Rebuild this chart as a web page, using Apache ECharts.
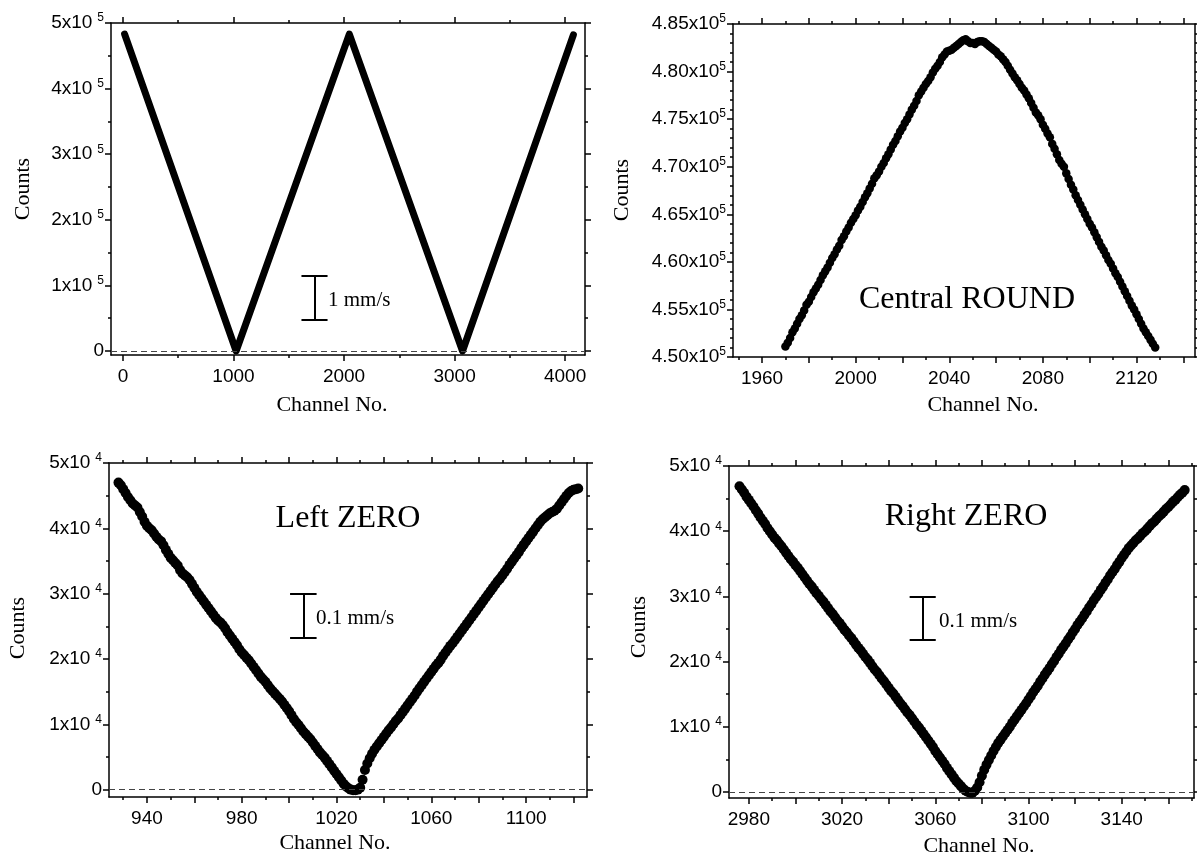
<!DOCTYPE html>
<html>
<head>
<meta charset="utf-8">
<script src="https://cdn.jsdelivr.net/npm/echarts@6/dist/echarts.min.js"></script>
<style>
  html, body { margin: 0; padding: 0; background: #fff; }
  #chart { width: 1197px; height: 859px; }
</style>
</head>
<body>
<div id="chart"></div>
<script>
// ---- data ----
// panel 1: full spectrum (thick line)
const p1Channel = [15, 1024, 2048, 3072, 4075];
const p1Counts = [483000, 0, 483000, 0, 482000];

// panel 2: central round, one point per channel from 1970
const p2FirstChannel = 1970;
const p2Counts = [
  451100, 451500, 452000, 452600, 453000, 453500, 454000, 454400, 454900, 455500,
  455800, 456300, 456800, 457200, 457600, 458100, 458600, 459000, 459400, 459900,
  460400, 460800, 461300, 461700, 462300, 462700, 463200, 463600, 464100, 464500,
  464900, 465400, 465800, 466300, 466800, 467200, 467700, 468200, 468800, 469100,
  469500, 470000, 470400, 470900, 471300, 471800, 472300, 472700, 473200, 473700,
  474100, 474600, 475000, 475500, 476000, 476400, 476900, 477500, 477900, 478300,
  478700, 479000, 479400, 479900, 480300, 480600, 481000, 481500, 481800, 482100,
  482200, 482300, 482500, 482700, 482900, 483100, 483300, 483400, 483200, 483000,
  483000, 482900, 483100, 483200, 483200, 483100, 482900, 482700, 482500, 482300,
  482100, 481800, 481600, 481300, 481000, 480600, 480200, 479800, 479400, 479100,
  478700, 478300, 478000, 477600, 477200, 476700, 476200, 475700, 475400, 475000,
  474400, 474000, 473500, 473100, 472400, 471900, 471300, 470700, 470300, 470000,
  469300, 468700, 468100, 467600, 467000, 466500, 466000, 465500, 465000, 464500,
  464000, 463600, 463100, 462600, 462100, 461600, 461200, 460700, 460200, 459800,
  459300, 458800, 458400, 457900, 457400, 456900, 456400, 455900, 455400, 455000,
  454500, 454000, 453500, 453000, 452600, 452200, 451800, 451400, 451000
];

// panel 3: left zero, one point per channel from 928
const p3FirstChannel = 928;
const p3Counts = [
  47000, 46600, 46000, 45400, 44800, 44300, 43800, 43500, 43200, 42500,
  41800, 41000, 40400, 40000, 39700, 39200, 38700, 38300, 38000, 37400,
  36700, 36100, 35500, 35100, 34700, 34300, 33600, 33100, 32800, 32500,
  32100, 31500, 30900, 30300, 29800, 29300, 28800, 28300, 27800, 27300,
  26800, 26300, 25900, 25600, 25200, 24700, 24100, 23600, 23100, 22600,
  22100, 21500, 21000, 20600, 20200, 19800, 19300, 18800, 18300, 17800,
  17300, 16900, 16500, 16000, 15500, 15100, 14700, 14300, 13900, 13500,
  13000, 12500, 12000, 11400, 10800, 10300, 9900, 9400, 8900, 8500,
  8100, 7700, 7200, 6700, 6200, 5700, 5300, 4900, 4400, 3900,
  3400, 2900, 2400, 1900, 1400, 900, 500, 200, 0, -100,
  -100, 0, 300, 1500, 3000, 4000, 4800, 5500, 6100, 6600,
  7100, 7600, 8100, 8600, 9100, 9500, 10000, 10500, 10900, 11400,
  11900, 12400, 12900, 13400, 13900, 14400, 15000, 15500, 16000, 16500,
  17000, 17500, 18000, 18500, 19000, 19400, 19900, 20500, 21000, 21500,
  22000, 22400, 22900, 23400, 23900, 24400, 24900, 25400, 25900, 26400,
  26900, 27400, 27900, 28400, 28900, 29400, 29900, 30400, 30900, 31400,
  31900, 32300, 32800, 33300, 33800, 34400, 34900, 35400, 35900, 36400,
  37000, 37500, 38000, 38500, 39000, 39500, 40000, 40500, 41000, 41400,
  41700, 42000, 42300, 42500, 42700, 43000, 43500, 44000, 44500, 45000,
  45400, 45700, 45900, 46000, 46100
];

// panel 4: right zero, one point per channel from 2976
const p4FirstChannel = 2976;
const p4Counts = [
  46900, 46400, 45900, 45300, 44800, 44300, 43800, 43200, 42700, 42100,
  41600, 41100, 40500, 40000, 39500, 39000, 38600, 38100, 37700, 37200,
  36700, 36200, 35700, 35300, 34800, 34400, 33900, 33400, 32900, 32400,
  31900, 31500, 31000, 30500, 30100, 29600, 29200, 28700, 28200, 27700,
  27300, 26800, 26300, 25900, 25400, 24900, 24500, 24000, 23600, 23100,
  22600, 22100, 21700, 21200, 20700, 20300, 19800, 19300, 18800, 18400,
  17900, 17400, 17000, 16500, 16000, 15500, 15100, 14600, 14100, 13600,
  13200, 12700, 12200, 11800, 11300, 10800, 10300, 9900, 9400, 8900,
  8400, 7900, 7400, 6900, 6300, 5800, 5300, 4800, 4300, 3700,
  3200, 2700, 2200, 1700, 1300, 900, 500, 200, 0, -100,
  -100, 200, 700, 1500, 2500, 3400, 4200, 4900, 5600, 6300,
  6900, 7500, 8000, 8500, 9000, 9500, 10000, 10600, 11100, 11600,
  12100, 12600, 13100, 13600, 14200, 14700, 15300, 15800, 16300, 16900,
  17400, 18000, 18500, 19000, 19600, 20100, 20700, 21200, 21800, 22300,
  22800, 23400, 23900, 24500, 25000, 25600, 26100, 26600, 27200, 27700,
  28300, 28800, 29400, 29900, 30400, 31000, 31500, 32100, 32600, 33200,
  33700, 34200, 34800, 35300, 35900, 36400, 36900, 37400, 37800, 38200,
  38600, 38900, 39300, 39700, 40000, 40400, 40800, 41200, 41500, 41900,
  42300, 42600, 43000, 43400, 43700, 44100, 44500, 44800, 45200, 45600,
  45900, 46300
];

// ---- tick values ----
const p1XLabels = [0, 1000, 2000, 3000, 4000];
const p1XMinor = [500, 1500, 2500, 3500];
const p1YLabels = [0, 100000, 200000, 300000, 400000, 500000];
const p1YMinor = [50000, 150000, 250000, 350000, 450000];

const p2XLabels = [1960, 2000, 2040, 2080, 2120];
const p2XMajor = [1960, 1980, 2000, 2020, 2040, 2060, 2080, 2100, 2120, 2140];
const p2XMinor = [1950, 1970, 1990, 2010, 2030, 2050, 2070, 2090, 2110, 2130];
const p2YLabels = [450000, 455000, 460000, 465000, 470000, 475000, 480000, 485000];
const p2YMinor = [
  451000, 452000, 453000, 454000, 456000, 457000, 458000, 459000,
  461000, 462000, 463000, 464000, 466000, 467000, 468000, 469000,
  471000, 472000, 473000, 474000, 476000, 477000, 478000, 479000,
  481000, 482000, 483000, 484000
];

const p3XLabels = [940, 980, 1020, 1060, 1100];
const p3XMajor = [940, 960, 980, 1000, 1020, 1040, 1060, 1080, 1100, 1120];
const p3XMinor = [930, 950, 970, 990, 1010, 1030, 1050, 1070, 1090, 1110];

const p4XLabels = [2980, 3020, 3060, 3100, 3140];
const p4XMajor = [2980, 3000, 3020, 3040, 3060, 3080, 3100, 3120, 3140, 3160];
const p4XMinor = [2990, 3010, 3030, 3050, 3070, 3090, 3110, 3130, 3150, 3170];

const zeroYLabels = [0, 10000, 20000, 30000, 40000, 50000];
const zeroYMinor = [5000, 15000, 25000, 35000, 45000];

// scale bars: channel, [low, high] counts, half cap width in channels
const p1Bar = { x: 1733, y: [48100, 115200], half: 118 };
const p3Bar = { x: 1006, y: [23300, 29950], half: 5.6 };
const p4Bar = { x: 3054.6, y: [23300, 29950], half: 5.6 };

// ---- styling helpers ----
const SANS = "'Liberation Sans', Arial, sans-serif";
const SERIF = "'Liberation Serif', 'Times New Roman', serif";

function supFormatter(exp, decimals) {
  return (v) => v === 0 ? '{m|0}' : '{m|' + (v / Math.pow(10, exp)).toFixed(decimals) + 'x10}{s|' + exp + '}';
}

function yLabelStyle(exp, decimals, gap) {
  return {
    formatter: supFormatter(exp, decimals),
    margin: 7,
    rich: {
      m: { fontSize: 19, fontFamily: SANS, color: '#000', lineHeight: 22 },
      s: { fontSize: 12, fontFamily: SANS, color: '#000', lineHeight: 12, verticalAlign: 'top', padding: [0, 0, 0, gap] },
    },
  };
}

const xLabelStyle = { fontSize: 19, fontFamily: SANS, color: '#000', margin: 12, formatter: (v) => String(v) };

function makeAxes(dim, grid, min, max, major, minor, labels, labelCfg) {
  const pos = dim === 'x' ? ['bottom', 'top'] : ['left', 'right'];
  const line = { show: true, onZero: false, lineStyle: { color: '#000', width: 1.5 } };
  const noLine = { show: false, onZero: false };
  const base = { type: 'value', gridIndex: grid, min, max, splitLine: { show: false } };
  const tick = (vals, len) => ({ show: true, length: len, customValues: vals, lineStyle: { color: '#000', width: 1.5 } });
  return [
    { ...base, position: pos[0], axisLine: line, axisTick: tick(major, 6), axisLabel: { show: true, customValues: labels, ...labelCfg } },
    { ...base, position: pos[0], axisLine: noLine, axisTick: tick(minor, 3), axisLabel: { show: false } },
    { ...base, position: pos[1], axisLine: line, axisTick: tick(major, 6), axisLabel: { show: false } },
    { ...base, position: pos[1], axisLine: noLine, axisTick: tick(minor, 3), axisLabel: { show: false } },
  ];
}

function barItems(bar) {
  const st = { type: 'solid', color: '#000', width: 2 };
  return [
    [{ coord: [bar.x, bar.y[0]], lineStyle: st }, { coord: [bar.x, bar.y[1]] }],
    [{ coord: [bar.x - bar.half, bar.y[0]], lineStyle: st }, { coord: [bar.x + bar.half, bar.y[0]] }],
    [{ coord: [bar.x - bar.half, bar.y[1]], lineStyle: st }, { coord: [bar.x + bar.half, bar.y[1]] }],
  ];
}

function markers(bar) {
  const items = [{ yAxis: 0, lineStyle: { type: [6, 4], color: '#444', width: 1 } }];
  return {
    silent: true,
    symbol: ['none', 'none'],
    label: { show: false },
    emphasis: { disabled: true },
    animation: false,
    data: bar ? items.concat(barItems(bar)) : items,
  };
}

function seq(first, values) {
  return values.map((v, i) => [first + i, v]);
}

const chart = echarts.init(document.getElementById('chart'));

const xAxes = [
  ...makeAxes('x', 0, -108, 4180, p1XLabels, p1XMinor, p1XLabels, xLabelStyle),
  ...makeAxes('x', 1, 1947.6, 2145, p2XMajor, p2XMinor, p2XLabels, xLabelStyle),
  ...makeAxes('x', 2, 924, 1125.7, p3XMajor, p3XMinor, p3XLabels, xLabelStyle),
  ...makeAxes('x', 3, 2971.5, 3171, p4XMajor, p4XMinor, p4XLabels, xLabelStyle),
];
const yAxes = [
  ...makeAxes('y', 0, -6100, 500000, p1YLabels, p1YMinor, p1YLabels, yLabelStyle(5, 0, 5)),
  ...makeAxes('y', 1, 450000, 485000, p2YLabels, p2YMinor, p2YLabels, yLabelStyle(5, 2, 0)),
  ...makeAxes('y', 2, -1130, 50000, zeroYLabels, zeroYMinor, zeroYLabels, yLabelStyle(4, 0, 5)),
  ...makeAxes('y', 3, -920, 50000, zeroYLabels, zeroYMinor, zeroYLabels, yLabelStyle(4, 0, 5)),
];

function title(text, x, y, size, rotate) {
  return {
    type: 'text', x, y, rotation: rotate ? Math.PI / 2 : 0,
    style: { text, font: size + 'px ' + SERIF, fill: '#000', align: 'center', verticalAlign: 'middle' },
  };
}

function note(text, x, y, size) {
  return {
    type: 'text', x, y,
    style: { text, font: size + 'px ' + SERIF, fill: '#000', align: 'left', verticalAlign: 'middle' },
  };
}

const dot = { color: '#000', opacity: 1 };

chart.setOption({
  animation: false,
  backgroundColor: '#fff',
  grid: [
    { left: 111, top: 23, width: 474, height: 332 },
    { left: 733, top: 24, width: 462, height: 333 },
    { left: 109, top: 463, width: 478, height: 334 },
    { left: 729, top: 466, width: 465, height: 332 },
  ],
  xAxis: xAxes,
  yAxis: yAxes,
  series: [
    {
      type: 'line', xAxisIndex: 0, yAxisIndex: 0,
      data: p1Channel.map((c, i) => [c, p1Counts[i]]),
      showSymbol: false, silent: true,
      lineStyle: { color: '#000', width: 7, cap: 'round', join: 'round' },
      markLine: markers(p1Bar),
    },
    {
      type: 'scatter', xAxisIndex: 4, yAxisIndex: 4,
      data: seq(p2FirstChannel, p2Counts),
      symbolSize: 8.5, silent: true,
      itemStyle: dot,
    },
    {
      type: 'scatter', xAxisIndex: 8, yAxisIndex: 8,
      data: seq(p3FirstChannel, p3Counts),
      symbolSize: 10, silent: true,
      itemStyle: dot,
      markLine: markers(p3Bar),
    },
    {
      type: 'scatter', xAxisIndex: 12, yAxisIndex: 12,
      data: seq(p4FirstChannel, p4Counts),
      symbolSize: 10, silent: true,
      itemStyle: dot,
      markLine: markers(p4Bar),
    },
  ],
  graphic: [
    title('Counts', 23, 189, 22, true),
    title('Counts', 622, 190, 22, true),
    title('Counts', 18, 628, 22, true),
    title('Counts', 639, 627, 22, true),
    title('Channel No.', 332, 405, 22),
    title('Channel No.', 983, 405, 22),
    title('Channel No.', 335, 843, 22),
    title('Channel No.', 979, 846, 22),
    note('1 mm/s', 328, 300, 21),
    note('0.1 mm/s', 316, 618, 21),
    note('0.1 mm/s', 939, 621, 21),
    title('Central ROUND', 967, 300, 32),
    title('Left ZERO', 348, 519, 32),
    title('Right ZERO', 966, 517, 32),
  ],
});
</script>
</body>
</html>
